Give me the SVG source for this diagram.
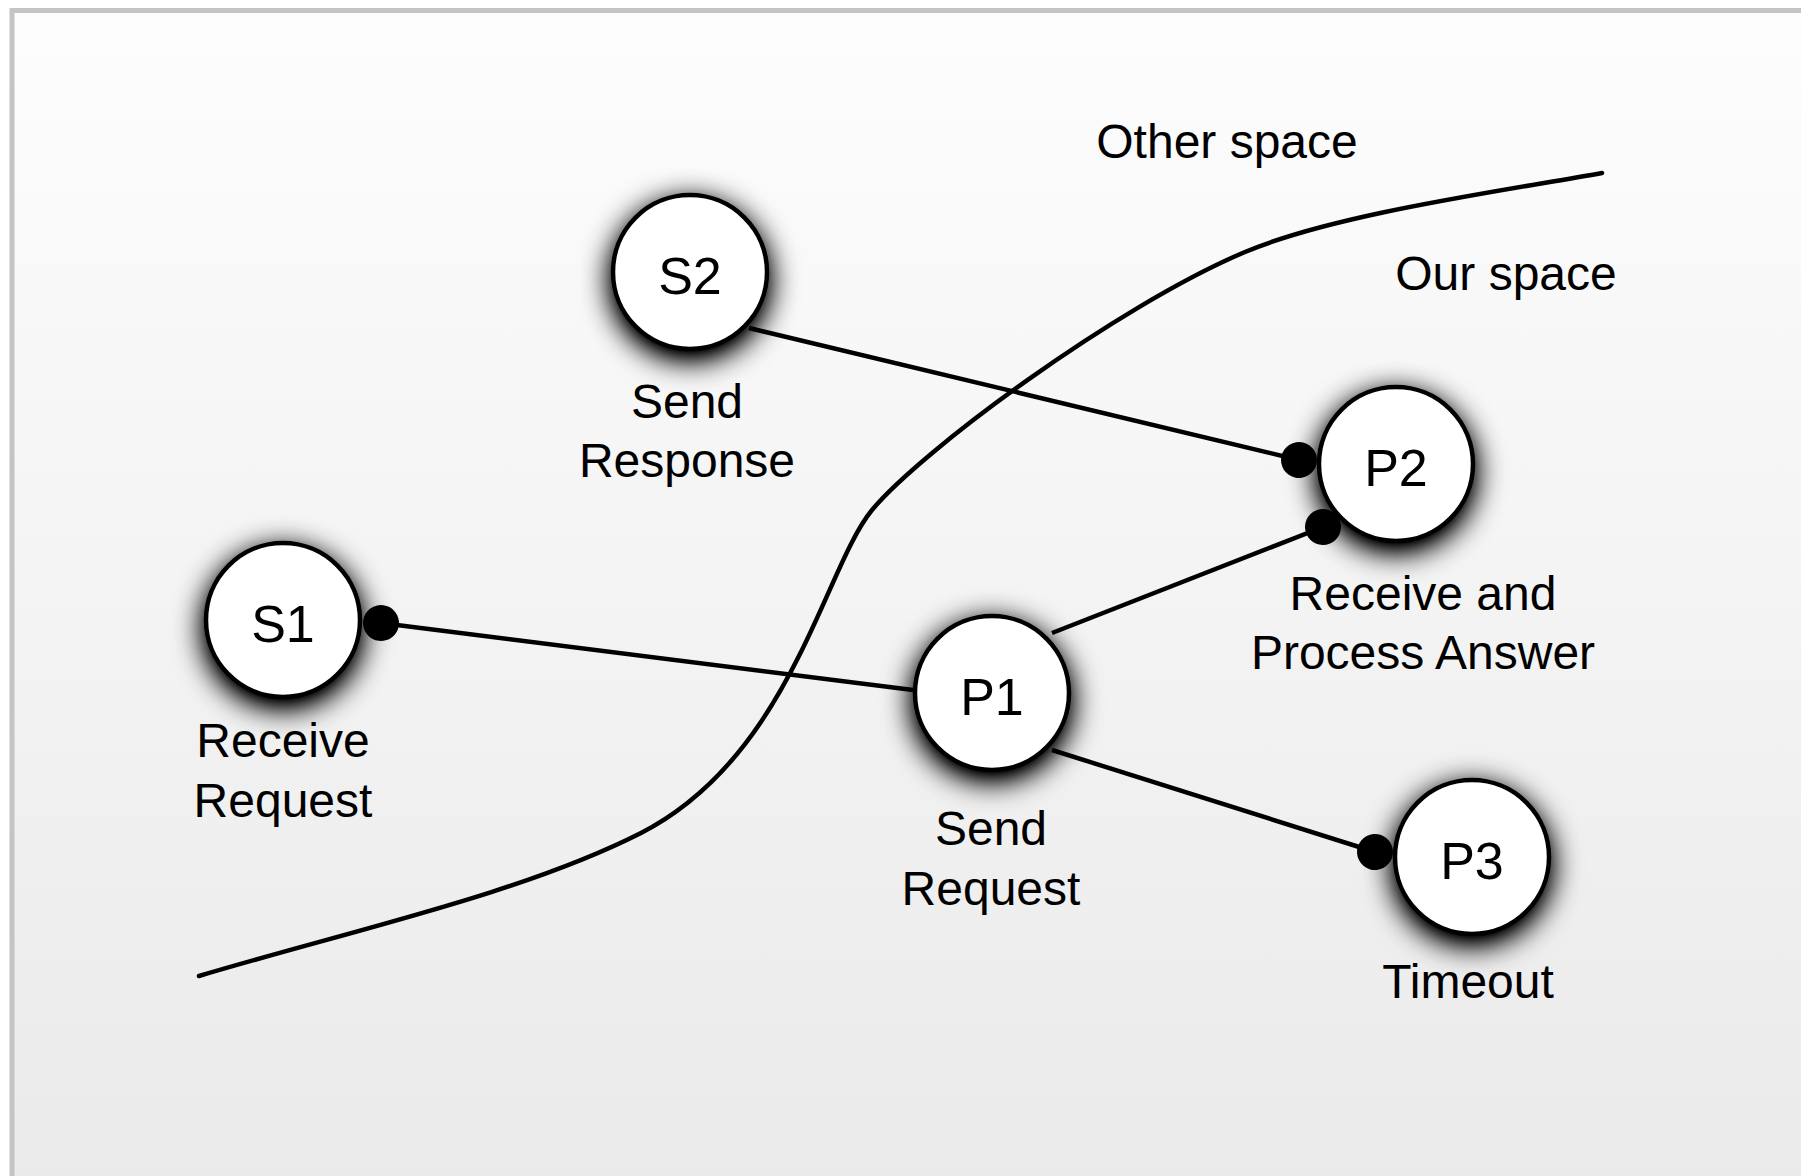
<svg xmlns="http://www.w3.org/2000/svg" width="1801" height="1176" viewBox="0 0 1801 1176">
  <defs>
    <linearGradient id="bg" x1="0" y1="0" x2="0" y2="1">
      <stop offset="0" stop-color="#fdfdfd"/>
      <stop offset="1" stop-color="#eaeaea"/>
    </linearGradient>
    <filter id="sh" x="-50%" y="-50%" width="200%" height="200%">
      <feGaussianBlur in="SourceAlpha" stdDeviation="15"/>
      <feOffset dx="0" dy="8"/>
      <feComponentTransfer><feFuncA type="linear" slope="1.4"/></feComponentTransfer>
      <feMerge><feMergeNode/><feMergeNode in="SourceGraphic"/></feMerge>
    </filter>
    <marker id="dot" markerUnits="userSpaceOnUse" markerWidth="40" markerHeight="40" refX="20" refY="20" orient="auto">
      <circle cx="20" cy="20" r="18" fill="#000"/>
    </marker>
    <style>
      .node circle { fill: #fff; stroke: #000; stroke-width: 4.5; }
      .name { font-family: "Liberation Sans", Arial, Helvetica, sans-serif; font-size: 52px; fill: #000; text-anchor: middle; }
      .lbl { font-family: "Liberation Sans", Arial, Helvetica, sans-serif; font-size: 48px; fill: #000; text-anchor: middle; }
      .conn { fill: none; stroke: #000; stroke-width: 4.5; }
    </style>
  </defs>

  <rect x="12" y="10.5" width="1800" height="1175" fill="url(#bg)" stroke="#c4c4c4" stroke-width="5"/>

  <g id="boundary">
    <path class="conn" stroke-linecap="round" d="M199,976 C349,931 521,894 641,833 C791,756 824,568 872,510 C920,452 1115,307 1245,252 C1335,214 1502,191 1602,173"/>
    <text class="lbl" x="1227" y="158">Other space</text>
    <text class="lbl" x="1506" y="290">Our space</text>
  </g>

  <g id="S2" class="node">
    <circle cx="690" cy="272" r="77" filter="url(#sh)"/>
    <text class="name" x="690" y="294">S2</text>
    <text class="lbl" x="687" y="418">Send</text>
    <text class="lbl" x="687" y="477">Response</text>
  </g>
  <g id="S1" class="node">
    <circle cx="283" cy="620" r="77" filter="url(#sh)"/>
    <text class="name" x="283" y="642">S1</text>
    <text class="lbl" x="283" y="757">Receive</text>
    <text class="lbl" x="283" y="817">Request</text>
  </g>
  <g id="P1" class="node">
    <circle cx="992" cy="693" r="77" filter="url(#sh)"/>
    <text class="name" x="992" y="715">P1</text>
    <text class="lbl" x="991" y="845">Send</text>
    <text class="lbl" x="991" y="905">Request</text>
  </g>
  <g id="P2" class="node">
    <circle cx="1396" cy="464" r="77" filter="url(#sh)"/>
    <text class="name" x="1396" y="486">P2</text>
    <text class="lbl" x="1423" y="610">Receive and</text>
    <text class="lbl" x="1423" y="669">Process Answer</text>
  </g>
  <g id="P3" class="node">
    <circle cx="1472" cy="857" r="77" filter="url(#sh)"/>
    <text class="name" x="1472" y="879">P3</text>
    <text class="lbl" x="1468" y="998">Timeout</text>
  </g>

  <g id="connectors">
    <path class="conn" d="M749,328 L1299,460" marker-end="url(#dot)"/>
    <path class="conn" d="M381,623 L913,690" marker-start="url(#dot)"/>
    <path class="conn" d="M1052,633 L1323,527" marker-end="url(#dot)"/>
    <path class="conn" d="M1052,750 L1375,852" marker-end="url(#dot)"/>
  </g>
</svg>
